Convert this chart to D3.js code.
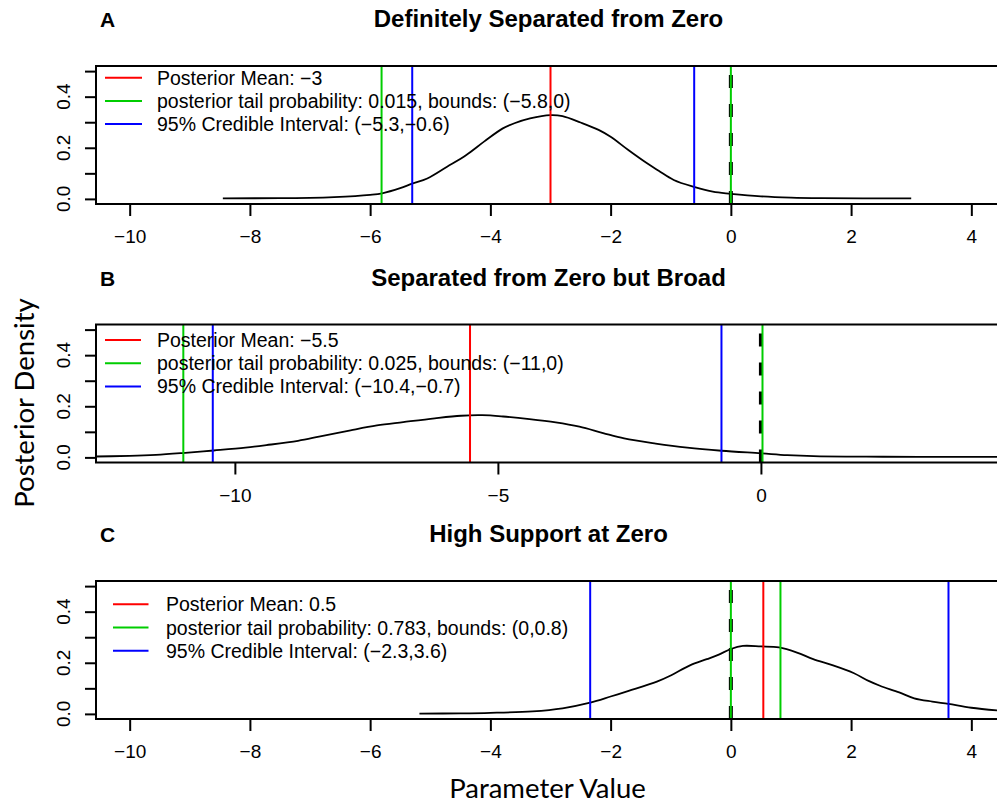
<!DOCTYPE html>
<html>
<head>
<meta charset="utf-8">
<script src="https://cdn.jsdelivr.net/npm/d3@7"></script>
<style>
  body { margin: 0; background: #fff; }
  text { font-family: "Liberation Sans", Arial, Helvetica, sans-serif; }
</style>
</head>
<body>
<div id="chart"></div>
<script>
// panel letters / titles
var letters = ["A", "B", "C"];
var titles = ["Definitely Separated from Zero", "Separated from Zero but Broad", "High Support at Zero"];

// density curves, [x, density]
var densA = [[-8.45,0.002],[-7.5,0.003],[-7.0,0.004],[-6.6,0.007],[-6.0,0.016],[-5.8,0.022],[-5.5,0.042],
  [-5.3,0.06],[-5.05,0.08],[-4.72,0.126],[-4.4,0.172],[-4.1,0.225],[-3.8,0.275],[-3.6,0.296],[-3.34,0.315],
  [-3.0,0.328],[-2.8,0.324],[-2.5,0.299],[-2.2,0.27],[-2.0,0.243],[-1.7,0.19],[-1.4,0.14],[-1.2,0.11],
  [-0.95,0.074],[-0.6,0.046],[-0.3,0.028],[0.0,0.02],[0.5,0.01],[1.0,0.005],[1.5,0.003],[3.0,0.002]];
var densB = [[-12.8,0.003],[-12.0,0.006],[-11.5,0.01],[-11.0,0.017],[-10.4,0.027],[-9.8,0.038],[-9.4,0.048],
  [-8.8,0.065],[-8.4,0.081],[-7.8,0.106],[-7.3,0.125],[-6.8,0.138],[-6.2,0.153],[-5.7,0.163],[-5.3,0.165],
  [-4.9,0.16],[-4.4,0.15],[-3.9,0.137],[-3.45,0.12],[-3.0,0.095],[-2.6,0.074],[-2.0,0.054],[-1.4,0.038],
  [-0.75,0.026],[0,0.016],[0.5,0.009],[1.0,0.005],[2.0,0.003],[3.0,0.002],[5.0,0.002]];
var densC = [[-5.18,0.001],[-4.5,0.002],[-4.0,0.004],[-3.3,0.01],[-2.8,0.022],[-2.34,0.044],[-2.0,0.068],
  [-1.7,0.09],[-1.23,0.126],[-1.0,0.15],[-0.68,0.19],[-0.4,0.214],[-0.2,0.232],[0.0,0.254],[0.2,0.266],
  [0.5,0.264],[0.8,0.26],[1.1,0.24],[1.37,0.214],[1.7,0.19],[2.04,0.16],[2.3,0.128],[2.48,0.11],
  [2.8,0.084],[3.05,0.061],[3.35,0.048],[3.62,0.039],[4.0,0.024],[4.6,0.01]];
var densities = [densA, densB, densC];

// vertical reference lines
var meanVals = [-3, -5.53, 0.54];
var tailBounds = [[-5.81, 0], [-10.98, 0.03], [0, 0.825]];
var ciBounds = [[-5.3, -0.61], [-10.42, -0.75], [-2.34, 3.62]];

var legendLabels = [
  ["Posterior Mean: \u22123", "posterior tail probability: 0.015, bounds: (\u22125.8,0)", "95% Credible Interval: (\u22125.3,\u22120.6)"],
  ["Posterior Mean: \u22125.5", "posterior tail probability: 0.025, bounds: (\u221211,0)", "95% Credible Interval: (\u221210.4,\u22120.7)"],
  ["Posterior Mean: 0.5", "posterior tail probability: 0.783, bounds: (0,0.8)", "95% Credible Interval: (\u22122.3,3.6)"]
];

var xDomains = [[-10.56, 4.56], [-12.64, 4.64], [-10.56, 4.56]];
var xTicks = [[-10, -8, -6, -4, -2, 0, 2, 4], [-10, -5, 0], [-10, -8, -6, -4, -2, 0, 2, 4]];
var yDomain = [-0.02, 0.52];
var yTicks = [0, 0.1, 0.2, 0.3, 0.4, 0.5];
var yLabels = [0, 0.2, 0.4];

var legendColors = ["#ff0000", "#00cd00", "#0000ff"];

var w = 997, h = 805;
var left = 96, right = 1005;
var tops = [66, 324.5, 581];
var ph = 138;
// legend placement per panel: [line x0, line x1, text x, first row offset]
var legPos = [[105, 142, 157, 11.7], [105, 141, 157, 15.5], [113, 148.5, 166, 23.3]];
var rowGap = 23.2;

var svg = d3.select("#chart").append("svg").attr("width", w).attr("height", h);

for (let p = 0; p < 3; p++) {
  let pTop = tops[p], pBottom = pTop + ph;
  let x = d3.scaleLinear().domain(xDomains[p]).range([left, right]);
  let y = d3.scaleLinear().domain(yDomain).range([pBottom, pTop]);
  let g = svg.append("g");

  g.append("clipPath").attr("id", "clip" + p)
    .append("rect").attr("x", left).attr("y", pTop).attr("width", right - left).attr("height", ph);

  // letter + title
  g.append("text").attr("x", 100).attr("y", pTop - 39).style("font-size", "21px")
    .style("font-weight", "bold").text(letters[p]);
  g.append("text").attr("x", (left + right) / 2 - 2).attr("y", pTop - 39).attr("text-anchor", "middle")
    .style("font-size", "24px").style("font-weight", "bold").text(titles[p]);

  let plot = g.append("g").attr("clip-path", "url(#clip" + p + ")");

  // legend (no box)
  let lp = legPos[p];
  legendLabels[p].forEach(function (lab, i) {
    let yy = pTop + lp[3] + i * rowGap;
    g.append("line").attr("x1", lp[0]).attr("x2", lp[1]).attr("y1", yy).attr("y2", yy)
      .attr("stroke", legendColors[i]).attr("stroke-width", 2);
    g.append("text").attr("x", lp[2]).attr("y", yy).attr("dy", "0.36em")
      .style("font-size", "19.5px").text(lab);
  });

  // density
  plot.append("path").datum(densities[p])
    .attr("d", d3.line().x(function (d) { return x(d[0]); }).y(function (d) { return y(d[1]); }).curve(d3.curveCatmullRom.alpha(0.5)))
    .attr("fill", "none").attr("stroke", "#000").attr("stroke-width", 1.8);

  // dashed zero line, drawn from bottom up
  plot.append("line").attr("x1", x(0)).attr("x2", x(0)).attr("y1", pBottom).attr("y2", pTop)
    .attr("stroke", "#000").attr("stroke-width", 4).attr("stroke-dasharray", "13,16");

  let vlines = [];
  ciBounds[p].forEach(function (v) { vlines.push([v, legendColors[2]]); });
  tailBounds[p].forEach(function (v) { vlines.push([v, legendColors[1]]); });
  vlines.push([meanVals[p], legendColors[0]]);
  plot.selectAll("line.v").data(vlines).enter().append("line").attr("class", "v")
    .attr("x1", function (d) { return x(d[0]); }).attr("x2", function (d) { return x(d[0]); })
    .attr("y1", pTop).attr("y2", pBottom)
    .attr("stroke", function (d) { return d[1]; }).attr("stroke-width", 2);

  // box
  g.append("rect").attr("x", left).attr("y", pTop).attr("width", right - left).attr("height", ph)
    .attr("fill", "none").attr("stroke", "#000").attr("stroke-width", 2);

  // x axis
  let xAxis = g.append("g").attr("transform", "translate(0," + pBottom + ")")
    .call(d3.axisBottom(x).tickValues(xTicks[p]).tickSize(12).tickPadding(14).tickFormat(d3.format("d")));
  xAxis.select(".domain").remove();
  xAxis.selectAll("line").attr("stroke-width", 2);
  xAxis.attr("font-family", null).attr("font-size", null);
  xAxis.selectAll("text").style("font-size", "19px");

  // y axis
  let yAxis = g.append("g").attr("transform", "translate(" + left + ",0)")
    .call(d3.axisLeft(y).tickValues(yTicks).tickSize(11).tickFormat(""));
  yAxis.select(".domain").remove();
  yAxis.selectAll("line").attr("stroke-width", 2);
  g.selectAll("text.ylab").data(yLabels).enter().append("text").attr("class", "ylab")
    .attr("transform", function (d) { return "translate(69.5," + y(d) + ") rotate(-90)"; })
    .attr("text-anchor", "middle").style("font-size", "19px").text(d3.format(".1f"));
}

// shared axis titles
svg.append("text").attr("transform", "translate(34,403) rotate(-90)").attr("text-anchor", "middle")
  .style("font-family", "Lato, 'Open Sans', sans-serif").style("font-size", "27.5px").text("Posterior Density");
svg.append("text").attr("x", 547.5).attr("y", 798).attr("text-anchor", "middle")
  .style("font-family", "Lato, 'Open Sans', sans-serif").style("font-size", "27.5px").text("Parameter Value");
</script>
</body>
</html>
